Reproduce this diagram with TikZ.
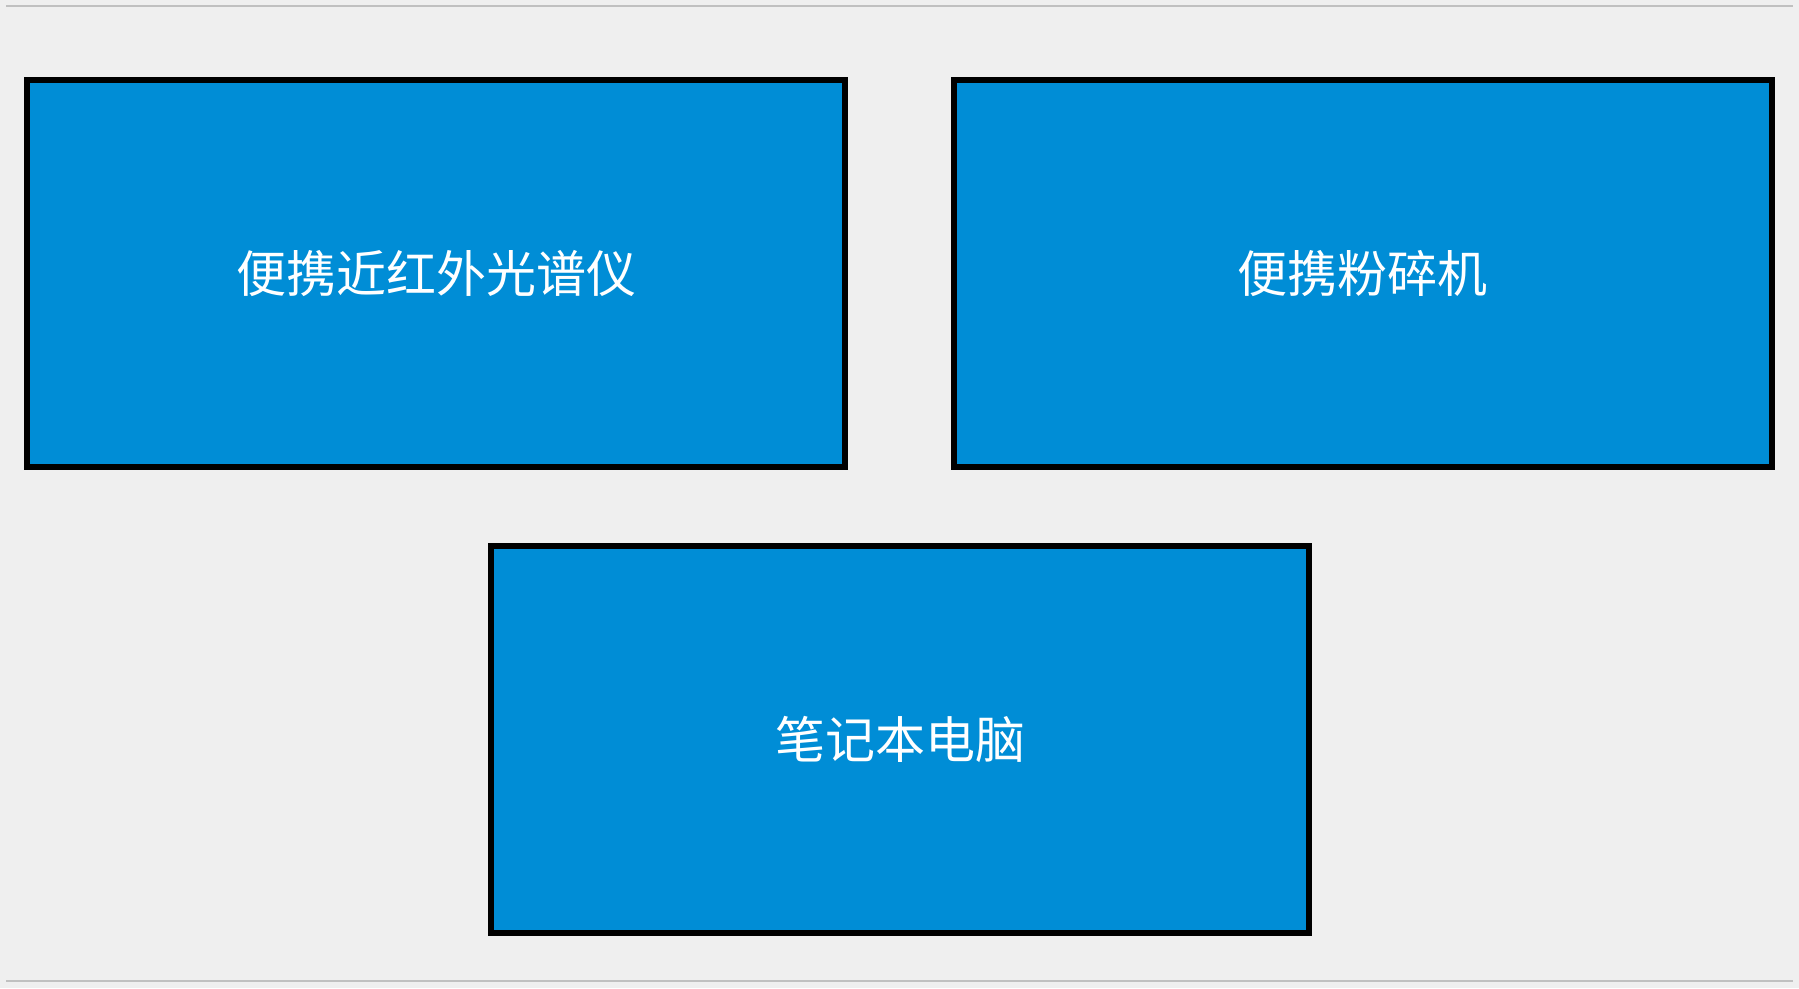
\documentclass[tikz,border=0pt]{standalone}
\usepackage{fontspec}
\newfontfamily\cjk{Noto Sans CJK SC}
\definecolor{bgcol}{RGB}{239,239,239}
\definecolor{boxcol}{RGB}{0,141,214}
\definecolor{rulecol}{RGB}{192,192,192}
\tikzset{
  devbox/.style={draw=black, line width=6pt, fill=boxcol, minimum width=818pt, minimum height=387pt, inner sep=0pt, text=white, font=\cjk\fontsize{50pt}{60pt}\selectfont},
  rulestyle/.style={draw=rulecol, line width=1.5pt}
}
\begin{document}
\begin{tikzpicture}[x=1pt,y=-1pt]
\useasboundingbox[fill=bgcol] (0,0) rectangle (1799,988);
\coordinate (tl) at (6,6);
\coordinate (tr) at (1793,6);
\coordinate (bl) at (6,981);
\coordinate (br) at (1793,981);
\draw[rulestyle] (tl) -- (tr);
\draw[rulestyle] (bl) -- (br);
\node[devbox] (nir) at (436,273.5) {便携近红外光谱仪};
\node[devbox] (mill) at (1362.5,273.5) {便携粉碎机};
\node[devbox] (pc) at (900,739.5) {笔记本电脑};
\end{tikzpicture}
\end{document}
